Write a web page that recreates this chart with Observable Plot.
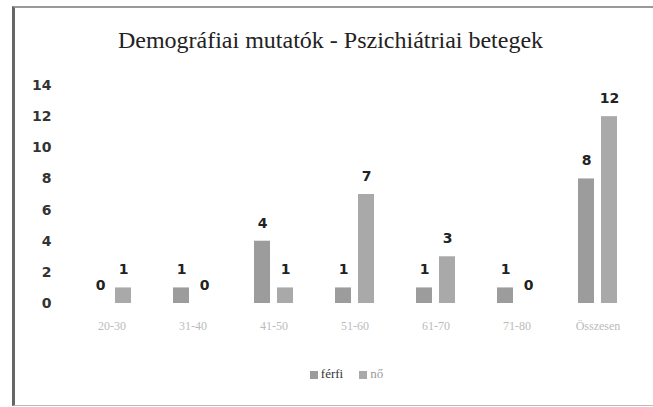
<!DOCTYPE html>
<html>
<head>
<meta charset="utf-8">
<script src="https://cdn.jsdelivr.net/npm/d3@7"></script>
<script src="https://cdn.jsdelivr.net/npm/@observablehq/plot@0.6"></script>
<style>
  html, body { margin: 0; padding: 0; background: #fff; }
  #wrap { position: relative; width: 653px; height: 407px; overflow: hidden; background: #fff; }
  #frame { position: absolute; left: 12px; top: 6px; width: 650px; height: 397px;
           border-bottom: 1px solid #bbb; border-left: 3px solid #666; border-top: 2px solid #999; }
  #title { position: absolute; left: 0; top: 27px; width: 653px; text-align: center;
           font-family: "Liberation Serif", "DejaVu Serif", serif; font-size: 24px; color: #222; padding-left: 8px; box-sizing: border-box; }
  #chart { position: absolute; left: 0; top: 70px; }
  #legend { position: absolute; left: 0; top: 366px; width: 653px; text-align: center;
            font-family: "Liberation Serif", serif; font-size: 13px; color: #999; padding-left: 40px; box-sizing: border-box; }
  #legend span.sw { display: inline-block; width: 8px; height: 8px; margin-right: 3px; vertical-align: middle; }
  #legend span.item { margin: 0 8px; }
</style>
</head>
<body>
<div id="wrap">
  <div id="frame"></div>
  <div id="title">Demográfiai mutatók - Pszichiátriai betegek</div>
  <div id="chart"></div>
  <div id="legend"></div>
</div>
<script>
const categories = ["20-30", "31-40", "41-50", "51-60", "61-70", "71-80", "Összesen"];
const series = ["férfi", "nő"];
const ferfi = [0, 1, 4, 1, 1, 1, 8];
const no = [1, 0, 1, 7, 3, 0, 12];
const yTicks = [0, 2, 4, 6, 8, 10, 12, 14];
const colors = ["#9c9c9c", "#a9a9a9"];

const data = [];
categories.forEach((c, i) => {
  data.push({cat: c, s: series[0], v: ferfi[i]});
  data.push({cat: c, s: series[1], v: no[i]});
});

const chart = Plot.plot({
  width: 653,
  height: 285,
  marginTop: 15,
  marginBottom: 52,
  marginLeft: 68,
  marginRight: 12,
  style: {fontFamily: "Liberation Sans, Arial, sans-serif", background: "transparent"},
  fx: {domain: categories, padding: 0, label: null, axis: null},
  x: {domain: series, paddingInner: 0.29, paddingOuter: 0.85, axis: null},
  y: {domain: [0, 14], axis: null},
  color: {domain: series, range: colors},
  marks: [
    Plot.axisY({ticks: yTicks, tickSize: 0, tickPadding: 20, label: null,
      fontSize: 14, fontWeight: "bold", fill: "#333", fontFamily: "DejaVu Sans, sans-serif"}),
    Plot.axisFx({anchor: "bottom", tickSize: 0, tickPadding: 18, label: null,
      fontSize: 12, fill: "#bbb", fontFamily: "Liberation Serif, serif"}),
    Plot.barY(data, {fx: "cat", x: "s", y: "v", fill: "s"}),
    Plot.text(data, {fx: "cat", x: "s", y: "v", text: d => String(d.v), dy: -18,
      fontSize: 14, fontWeight: "bold", fill: "#222", fontFamily: "DejaVu Sans, sans-serif"})
  ]
});
document.getElementById("chart").appendChild(chart);

const leg = document.getElementById("legend");
series.forEach((s, i) => {
  const item = document.createElement("span");
  item.className = "item";
  const sw = document.createElement("span");
  sw.className = "sw";
  sw.style.background = colors[i];
  item.appendChild(sw);
  item.appendChild(document.createTextNode(s));
  if (i === 0) item.style.color = "#333";
  leg.appendChild(item);
});
</script>
</body>
</html>
